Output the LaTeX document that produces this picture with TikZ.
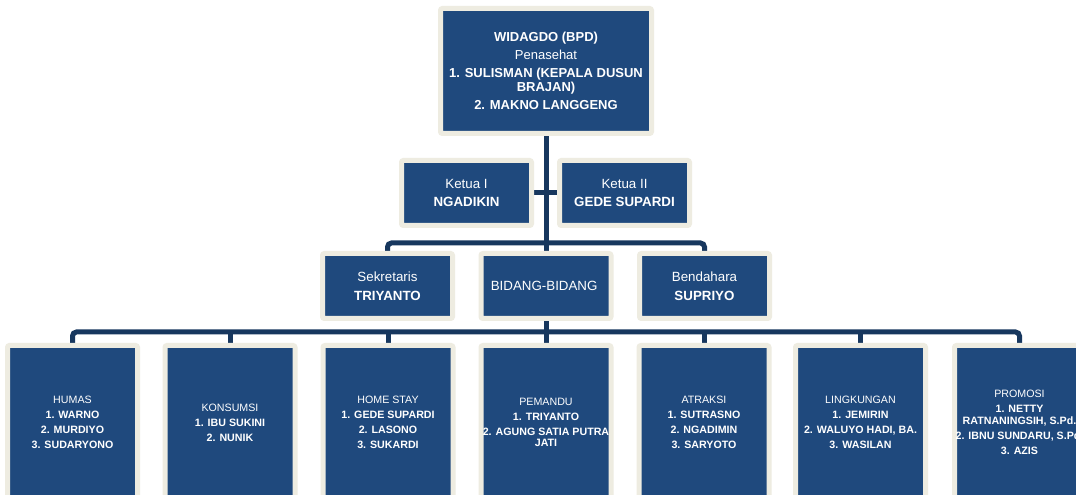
\documentclass[tikz,border=0pt]{standalone}
\usepackage{fontspec}
\setmainfont{Liberation Sans}
\usetikzlibrary{backgrounds}
\definecolor{unitblue}{HTML}{1F497D}
\definecolor{framebeige}{HTML}{EEECE1}
\definecolor{linknavy}{HTML}{17375E}
\tikzset{
  unit/.style = { draw=framebeige, line width=3.75pt, fill=unitblue, text=white,
                  align=center, inner sep=0pt, rounded corners=1.5pt },
  topunit/.style = { unit, minimum width=158.25pt, minimum height=93.75pt,
                     font=\fontsize{9.75}{10.5}\selectfont },
  midunit/.style = { unit, minimum width=97.5pt, minimum height=48.75pt,
                     font=\fontsize{10}{11}\selectfont },
  lowunit/.style = { unit, minimum width=97.5pt, minimum height=115.5pt,
                     font=\fontsize{8}{8.5}\selectfont },
  link/.style = { draw=linknavy, line width=3.75pt, rounded corners=3pt }
}
\begin{document}
\begin{tikzpicture}[ x=0.75pt, y=-0.75pt ]
  \useasboundingbox (0,0) rectangle (1076,495);
  \clip (0,0) rectangle (1076,495);

  \node [ topunit ] (pembina) at (546,71)
    { \textbf{WIDAGDO (BPD)}\\[3pt] Penasehat\\[3pt] \textbf{1. SULISMAN (KEPALA DUSUN}\\ \textbf{BRAJAN)}\\[3pt] \textbf{2. MAKNO LANGGENG} };

  \node [ midunit ] (ketua1) at (466.5,193) { Ketua I\\[3pt] \textbf{NGADIKIN} };
  \node [ midunit ] (ketua2) at (624.5,193) { Ketua II\\[3pt] \textbf{GEDE SUPARDI} };

  \node [ midunit ] (sekretaris) at (387.5,286) { Sekretaris\\[3pt] \textbf{TRIYANTO} };
  \node [ midunit ] (bidang) at (546,286) { BIDANG-BIDANG };
  \node [ midunit ] (bendahara) at (704.5,286) { Bendahara\\[3pt] \textbf{SUPRIYO} };

  \node [ lowunit ] (humas) at (72.5,422.5)
    { HUMAS\\[2.75pt] \textbf{1. WARNO}\\[2.75pt] \textbf{2. MURDIYO}\\[2.75pt] \textbf{3. SUDARYONO} };
  \node [ lowunit ] (konsumsi) at (230,422.5)
    { KONSUMSI\\[2.75pt] \textbf{1. IBU SUKINI}\\[2.75pt] \textbf{2. NUNIK} };
  \node [ lowunit ] (homestay) at (388,422.5)
    { HOME STAY\\[2.75pt] \textbf{1. GEDE SUPARDI}\\[2.75pt] \textbf{2. LASONO}\\[2.75pt] \textbf{3. SUKARDI} };
  \node [ lowunit ] (pemandu) at (546,422.5)
    { PEMANDU\\[2.75pt] \textbf{1. TRIYANTO}\\[2.75pt] \textbf{2. AGUNG SATIA PUTRA}\\ \textbf{JATI} };
  \node [ lowunit ] (atraksi) at (704,422.5)
    { ATRAKSI\\[2.75pt] \textbf{1. SUTRASNO}\\[2.75pt] \textbf{2. NGADIMIN}\\[2.75pt] \textbf{3. SARYOTO} };
  \node [ lowunit ] (lingkungan) at (860.5,422.5)
    { LINGKUNGAN\\[2.75pt] \textbf{1. JEMIRIN}\\[2.75pt] \textbf{2. WALUYO HADI, BA.}\\[2.75pt] \textbf{3. WASILAN} };
  \node [ lowunit ] (promosi) at (1019.5,422.5)
    { PROMOSI\\[2.75pt] \textbf{1. NETTY}\\ \textbf{RATNANINGSIH, S.Pd.}\\[2.75pt] \textbf{2. IBNU SUNDARU, S.Pd.}\\[2.75pt] \textbf{3. AZIS} };

  \coordinate (busmid) at (546,243);
  \coordinate (buslow) at (546,332);

  \begin{scope}[ on background layer ]
    \fill [ white ] (0,0) rectangle (1076,495);
    \draw [ link ] (pembina.south) -- (bidang.north);
    \draw [ link ] (ketua1.east) -- (ketua2.west);
    \draw [ link ] (sekretaris.north) |- (busmid) -| (bendahara.north);
    \draw [ link ] (bidang.south) -- (pemandu.north);
    \draw [ link ] (humas.north) |- (buslow) -| (promosi.north);
    \foreach \n in {konsumsi,homestay,atraksi,lingkungan}
      \draw [ link ] (\n.north) -- (\n.north |- buslow);
  \end{scope}
\end{tikzpicture}
\end{document}
